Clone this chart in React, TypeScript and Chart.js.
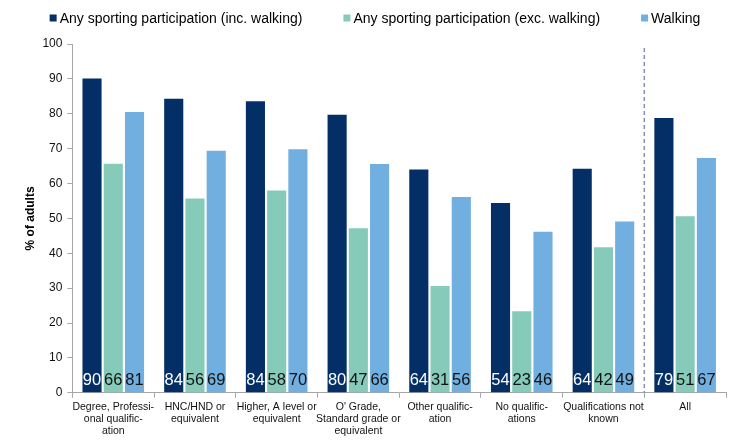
import { useEffect, useRef } from "react";
import { Chart, registerables, Plugin } from "chart.js";

Chart.register(...registerables);

const categories: string[][] = [
  ["Degree, Professi-", "onal qualific-", "ation"],
  ["HNC/HND or", "equivalent"],
  ["Higher, A level or", "equivalent"],
  ["O' Grade,", "Standard grade or", "equivalent"],
  ["Other qualific-", "ation"],
  ["No qualific-", "ations"],
  ["Qualifications not", "known"],
  ["All"],
];

const seriesNames = [
  "Any sporting participation (inc. walking)",
  "Any sporting participation (exc. walking)",
  "Walking",
];

const incWalking = [90.1, 84.3, 83.6, 79.7, 64.0, 54.4, 64.2, 78.8];
const excWalking = [65.7, 55.7, 58.0, 47.2, 30.6, 23.4, 41.7, 50.6];
const walking = [80.5, 69.4, 69.8, 65.6, 56.1, 46.2, 49.1, 67.3];

const colors = ["#032F66", "#86CAB9", "#70AFDF"];
const labelColors = ["#FFFFFF", "#111111", "#111111"];

const yTicks = [0, 10, 20, 30, 40, 50, 60, 70, 80, 90, 100];

const FONT = "'Liberation Sans', Arial, sans-serif";

// numbers sitting at the foot of every bar
const barLabels: Plugin<"bar"> = {
  id: "barLabels",
  afterDatasetsDraw(chart) {
    const ctx = chart.ctx;
    const y0 = chart.scales.y.getPixelForValue(0);
    ctx.save();
    ctx.font = `16.5px ${FONT}`;
    ctx.textAlign = "center";
    ctx.textBaseline = "middle";
    chart.data.datasets.forEach((ds, i) => {
      const meta = chart.getDatasetMeta(i);
      meta.data.forEach((bar, j) => {
        ctx.fillStyle = labelColors[i];
        ctx.fillText(String(Math.round(ds.data[j] as number)), bar.x, y0 - 12);
      });
    });
    ctx.restore();
  },
};

// dashed separator before "All"
const separator: Plugin<"bar"> = {
  id: "separator",
  afterDatasetsDraw(chart) {
    const { ctx, chartArea, scales } = chart;
    const n = categories.length;
    const x = (scales.x.getPixelForValue(n - 2) + scales.x.getPixelForValue(n - 1)) / 2;
    ctx.save();
    ctx.strokeStyle = "#8592B6";
    ctx.lineWidth = 1.5;
    ctx.setLineDash([4, 3]);
    ctx.beginPath();
    ctx.moveTo(x, chartArea.top + 4);
    ctx.lineTo(x, chartArea.bottom);
    ctx.stroke();
    ctx.restore();
  },
};

// legend row along the top
const topLegend: Plugin<"bar"> = {
  id: "topLegend",
  afterDraw(chart) {
    const ctx = chart.ctx;
    ctx.save();
    ctx.font = `14px ${FONT}`;
    ctx.textBaseline = "middle";
    const box = 7;
    const gap = 3;
    const spacing = 41;
    const widths = seriesNames.map((s) => box + gap + ctx.measureText(s).width);
    const total = widths.reduce((a, b) => a + b, 0) + spacing * (widths.length - 1);
    let x = chart.width / 2 + 6 - total / 2;
    const y = 18;
    seriesNames.forEach((s, i) => {
      ctx.fillStyle = colors[i];
      ctx.fillRect(x, y - box / 2, box, box);
      ctx.fillStyle = "#000";
      ctx.fillText(s, x + box + gap, y + 1);
      x += widths[i] + spacing;
    });
    ctx.restore();
  },
};

export default function App() {
  const canvasRef = useRef<HTMLCanvasElement | null>(null);

  useEffect(() => {
    if (!canvasRef.current) return;
    const chart = new Chart(canvasRef.current, {
      type: "bar",
      data: {
        labels: categories,
        datasets: [incWalking, excWalking, walking].map((d, i) => ({
          label: seriesNames[i],
          data: d,
          backgroundColor: colors[i],
          borderWidth: 0,
          categoryPercentage: 0.78,
          barPercentage: 0.9,
        })),
      },
      options: {
        animation: false,
        responsive: true,
        maintainAspectRatio: false,
        devicePixelRatio: 1,
        layout: { padding: { top: 44, right: 12, bottom: 5, left: 13 } },
        plugins: {
          legend: { display: false },
          tooltip: { enabled: false },
        },
        scales: {
          x: {
            grid: { drawOnChartArea: false, color: "#A6A6A6", tickLength: 5 },
            border: { color: "#A6A6A6" },
            ticks: {
              color: "#111",
              font: { family: FONT, size: 10.5, lineHeight: 1.15 },
              maxRotation: 0,
              autoSkip: false,
              padding: 3,
            },
          },
          y: {
            min: 0,
            max: 100,
            afterBuildTicks: (axis) => {
              axis.ticks = yTicks.map((v) => ({ value: v }));
            },
            grid: { drawOnChartArea: false, color: "#A6A6A6", tickLength: 5 },
            border: { color: "#A6A6A6" },
            ticks: {
              color: "#111",
              font: { family: FONT, size: 12 },
              padding: 5,
            },
            title: {
              display: true,
              text: "% of adults",
              color: "#000",
              font: { family: FONT, size: 12, weight: "bold" },
              padding: { top: 10, bottom: 0 },
            },
          },
        },
      },
      plugins: [barLabels, separator, topLegend],
    });
    return () => chart.destroy();
  }, []);

  return (
    <div style={{ position: "fixed", left: 0, top: 0, width: 738, height: 445, background: "#fff" }}>
      <canvas ref={canvasRef} />
    </div>
  );
}
